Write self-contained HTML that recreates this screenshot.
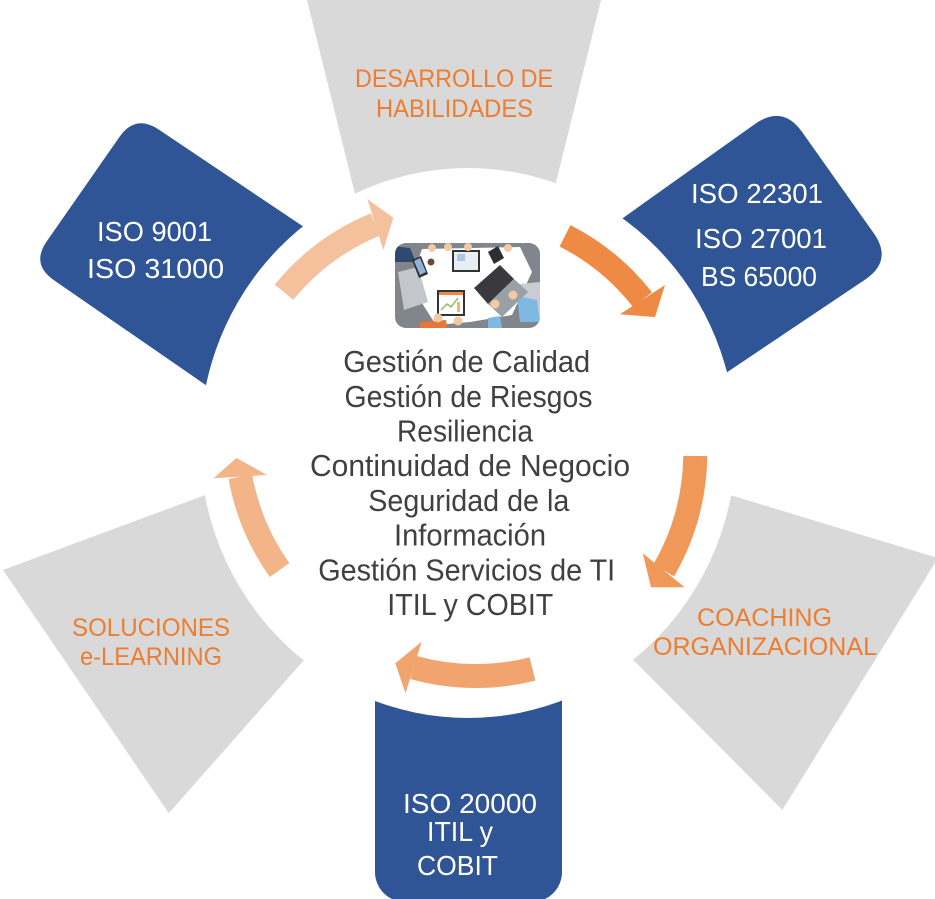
<!DOCTYPE html>
<html>
<head>
<meta charset="utf-8">
<style>
html,body{margin:0;padding:0;background:#ffffff;}
body{width:935px;height:899px;overflow:hidden;}
svg{display:block;}
text{font-family:"Liberation Sans", Arial, sans-serif;}
</style>
</head>
<body>
<svg width="935" height="899" viewBox="0 0 935 899" xmlns="http://www.w3.org/2000/svg">
  <defs>
    <clipPath id="ci">
      <rect x="395" y="243" width="145" height="85" rx="11" ry="11"/>
    </clipPath>
  </defs>
  <rect x="0" y="0" width="935" height="899" fill="#ffffff"/>

  <!-- Gray shapes -->
  <polygon points="304.5,-10 603.5,-10 536.8,260 371.4,260" fill="#d9d9d9"/>
  <polygon points="3,570 262,474 343.7,615 168.8,813.3" fill="#d9d9d9"/>
  <polygon points="938,558 782.4,810 591,617.4 673,477.7" fill="#d9d9d9"/>

  <!-- Blue shapes -->
  <path d="M119.5,136.9 Q135.5,113.9 158.7,129.5 L353.8,260.4 L255.1,419.1 L53.8,280.1 Q30.8,264.2 46.8,241.2 Z" fill="#2f5597"/>
  <path d="M574.1,252.8 L754.8,124.1 Q782.5,104.4 802.2,132.1 L873.6,233 Q893.3,260.7 865.1,279.6 L677.7,405.4 Z" fill="#2f5597"/>
  <path d="M375,640 L562,640 L562,872 A30,30 0 0 1 532,902 L405,902 A30,30 0 0 1 375,872 Z" fill="#2f5597"/>

  <!-- White central ellipse -->
  <ellipse cx="468" cy="443" rx="268" ry="275" fill="#ffffff"/>

  <!-- Arrows -->
  <path d="M284,292.2 A232,232 0 0 1 375.3,224.5" fill="none" stroke="#f5c09c" stroke-width="24"/>
  <polygon points="367.3,199 393.3,217.7 383.3,250" fill="#f5c09c"/>

  <path d="M565,235.8 A232,232 0 0 1 642.5,299.6" fill="none" stroke="#ee8a43" stroke-width="24"/>
  <polygon points="620,314.3 655,317 665,285" fill="#ee8a43"/>

  <path d="M695.3,456 A232,232 0 0 1 663.7,570.3" fill="none" stroke="#f09858" stroke-width="24"/>
  <polygon points="642.8,553.3 651,587.3 684.6,587.3" fill="#f09858"/>

  <path d="M532.5,669 A232,232 0 0 1 413.5,667.5" fill="none" stroke="#f2a46e" stroke-width="24"/>
  <polygon points="421.6,641.7 395.3,663.3 405.5,693.3" fill="#f2a46e"/>

  <path d="M279.6,570 A232,232 0 0 1 240.3,476.7" fill="none" stroke="#f3b487" stroke-width="24"/>
  <polygon points="213.5,478.3 236.5,458 267.1,475" fill="#f3b487"/>

  <!-- Center picture -->
  <g clip-path="url(#ci)">
    <rect x="395" y="243" width="145" height="85" fill="#80868c"/>
    <polygon points="422,249 520,247 532,272 512,315 470,322 436,325 420,300 414,272" fill="#ffffff"/>
    <polygon points="398,272 418,267 428,302 404,310" fill="#c3c6ca"/>
    <polygon points="520,284 540,282 540,318 526,320" fill="#c9cdd1"/>
    <!-- sleeves -->
    <polygon points="393,246 410,248 416,262 395,262" fill="#2d4a6e"/>
    <polygon points="420,322 446,320 448,335 420,335" fill="#e4783a"/>
    <polygon points="517,296 537,300 540,322 520,322" fill="#7fb8e0"/>
    <polygon points="488,318 500,316 503,335 488,335" fill="#7fb8e0"/>
    <!-- top tablet -->
    <rect x="452" y="250" width="28" height="22" fill="#333333"/>
    <rect x="454" y="252" width="24" height="18" fill="#e9eef4"/>
    <rect x="457" y="254" width="8" height="7" fill="#a9c9e8"/>
    <!-- phones -->
    <polygon points="412,260 421,256 428,274 419,278" fill="#2f2f33"/>
    <polygon points="414,261 420,258 426,272 420,275" fill="#8fb3d6"/>
    <polygon points="488,252 498,246 504,258 494,264" fill="#2f2f33"/>
    <!-- coffee -->
    <circle cx="431" cy="262" r="3.5" fill="#6b4a34"/>
    <!-- laptop -->
    <polygon points="474,288 500,265 514,279 488,304" fill="#3a3a3e"/>
    <polygon points="488,304 514,279 528,292 502,317" fill="#9aa0a6"/>
    <!-- bottom tablet -->
    <rect x="437" y="290" width="28" height="26" fill="#333333"/>
    <rect x="439" y="292" width="24" height="22" fill="#ffffff"/>
    <rect x="439" y="292" width="24" height="3" fill="#ee8a43"/>
    <polyline points="441,310 447,304 451,307 458,298" fill="none" stroke="#8cc063" stroke-width="1.5"/>
    <rect x="457" y="302" width="3" height="10" fill="#f2b56b"/>
    <!-- hands -->
    <circle cx="432" cy="248" r="4" fill="#f2c9a2"/>
    <circle cx="448" cy="247" r="4" fill="#f2c9a2"/>
    <circle cx="468" cy="247" r="4" fill="#f2c9a2"/>
    <circle cx="508" cy="248" r="4" fill="#f2c9a2"/>
    <circle cx="438" cy="318" r="4.5" fill="#f2c9a2"/>
    <circle cx="458" cy="321" r="4.5" fill="#f2c9a2"/>
    <circle cx="495" cy="304" r="4.5" fill="#f2c9a2"/>
    <circle cx="513" cy="295" r="4.5" fill="#f2c9a2"/>
  </g>

  <!-- Orange labels -->
  <g fill="#ed7d31" font-size="25" text-anchor="middle">
    <text x="454" y="87" textLength="198" lengthAdjust="spacingAndGlyphs">DESARROLLO DE</text>
    <text x="454.5" y="117" textLength="157" lengthAdjust="spacingAndGlyphs">HABILIDADES</text>
    <text x="764.5" y="626" textLength="135" lengthAdjust="spacingAndGlyphs">COACHING</text>
    <text x="765" y="655" textLength="224" lengthAdjust="spacingAndGlyphs">ORGANIZACIONAL</text>
    <text x="151" y="636" textLength="158" lengthAdjust="spacingAndGlyphs">SOLUCIONES</text>
    <text x="151" y="665" textLength="142" lengthAdjust="spacingAndGlyphs">e-LEARNING</text>
  </g>

  <!-- White labels -->
  <g fill="#ffffff" font-size="28" text-anchor="middle">
    <text x="154.5" y="241" textLength="115" lengthAdjust="spacingAndGlyphs">ISO 9001</text>
    <text x="155.5" y="278" textLength="137" lengthAdjust="spacingAndGlyphs">ISO 31000</text>
    <text x="757" y="203" textLength="132" lengthAdjust="spacingAndGlyphs">ISO 22301</text>
    <text x="761" y="248" textLength="132" lengthAdjust="spacingAndGlyphs">ISO 27001</text>
    <text x="759" y="286" textLength="116" lengthAdjust="spacingAndGlyphs">BS 65000</text>
    <text x="470" y="813" textLength="134" lengthAdjust="spacingAndGlyphs">ISO 20000</text>
    <text x="460" y="841" textLength="66" lengthAdjust="spacingAndGlyphs">ITIL y</text>
    <text x="457.5" y="875" textLength="81" lengthAdjust="spacingAndGlyphs">COBIT</text>
  </g>

  <!-- Center text -->
  <g fill="#404040" font-size="31" text-anchor="middle">
    <text x="466.7" y="372" textLength="247" lengthAdjust="spacingAndGlyphs">Gestión de Calidad</text>
    <text x="468.5" y="407" textLength="248" lengthAdjust="spacingAndGlyphs">Gestión de Riesgos</text>
    <text x="465" y="441.5" textLength="136" lengthAdjust="spacingAndGlyphs">Resiliencia</text>
    <text x="470" y="476" textLength="320" lengthAdjust="spacingAndGlyphs">Continuidad de Negocio</text>
    <text x="468.8" y="511" textLength="201" lengthAdjust="spacingAndGlyphs">Seguridad de la</text>
    <text x="470" y="545.5" textLength="152" lengthAdjust="spacingAndGlyphs">Información</text>
    <text x="466.7" y="580.5" textLength="297" lengthAdjust="spacingAndGlyphs">Gestión Servicios de TI</text>
    <text x="470.3" y="615" textLength="166" lengthAdjust="spacingAndGlyphs">ITIL y COBIT</text>
  </g>
</svg>
</body>
</html>
